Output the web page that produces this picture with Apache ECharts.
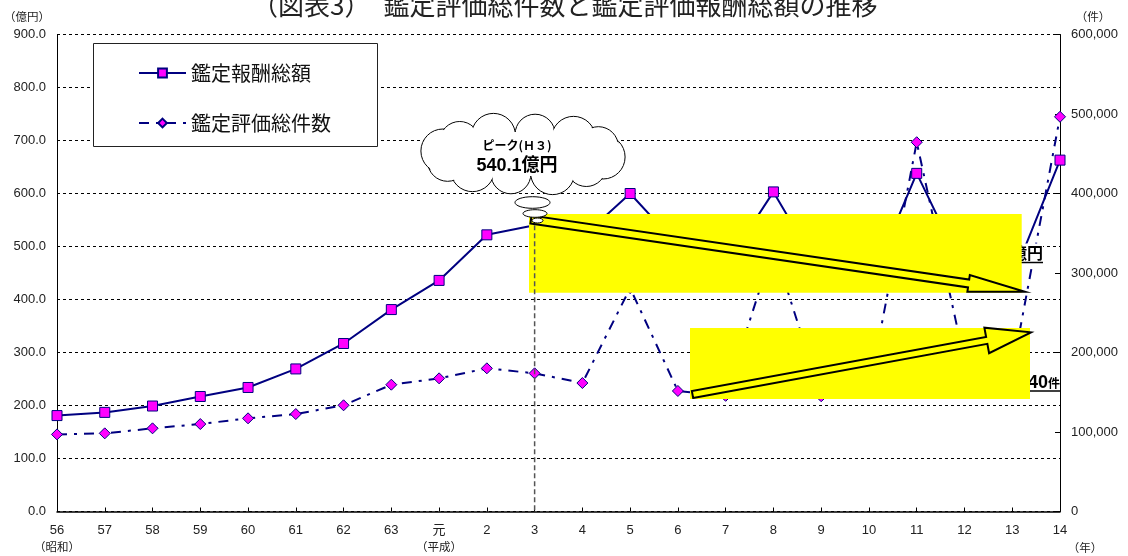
<!DOCTYPE html>
<html>
<head>
<meta charset="utf-8">
<script src="https://cdn.jsdelivr.net/npm/echarts@6/dist/echarts.min.js"></script>
<style>
html, body { margin: 0; padding: 0; background: #fff; }
#main { width: 1128px; height: 556px; }
</style>
</head>
<body>
<div id="main"></div>
<script>
// 年（昭和56年〜平成14年）
var years = ['56', '57', '58', '59', '60', '61', '62', '63', '元', '2', '3', '4', '5', '6', '7', '8', '9', '10', '11', '12', '13', '14'];
// 鑑定報酬総額（億円）
var feeTotal = [181, 187, 199, 217, 234, 269, 317, 381, 436, 522, 540.1, 518, 600, 502, 465, 603, 450, 425, 638, 452, 439, 663];
// 鑑定評価総件数（件）
var caseCount = [97000, 98300, 104600, 110000, 117200, 122600, 133600, 159500, 167500, 180100, 173800, 161600, 281000, 151600, 145500, 333000, 145000, 152000, 464500, 190000, 177000, 496500];
// 目盛り
var feeAxis = { min: 0, max: 900, step: 100 };
var countAxis = { min: 0, max: 600000, step: 100000 };

var JP = "'Noto Sans CJK JP', sans-serif";
var NUM = "'Liberation Sans', 'Noto Sans CJK JP', sans-serif";
var NAVY = '#000080';
var PINK = '#FF00FF';

var chart = echarts.init(document.getElementById('main'));

var option = {
    backgroundColor: '#fff',
    animation: false,
    textStyle: { fontFamily: NUM },
    title: {
        text: '（図表3）　鑑定評価総件数と鑑定評価報酬総額の推移',
        left: 247,
        top: -13,
        textStyle: { fontSize: 26, fontWeight: 'normal', color: '#222', fontFamily: JP }
    },
    legend: {
        orient: 'vertical',
        left: 133,
        top: 58,
        itemWidth: 47,
        itemHeight: 11,
        itemGap: 30,
        textStyle: { fontSize: 20, color: '#111', fontFamily: JP },
        data: ['鑑定報酬総額', '鑑定評価総件数']
    },
    grid: { left: 57, right: 68, top: 34.5, bottom: 44.5 },
    xAxis: {
        type: 'category',
        data: years,
        boundaryGap: false,
        axisLine: { lineStyle: { color: '#000', width: 1.5 } },
        axisTick: { inside: true, length: 4, lineStyle: { color: '#000' } },
        axisLabel: {
            interval: 0,
            margin: 11,
            fontSize: 13,
            lineHeight: 16,
            color: '#222',
            formatter: function (v) {
                if (v === '56') return v + '\n{sub|（昭和）}';
                if (v === '元') return v + '\n{sub|（平成）}';
                return v;
            },
            rich: { sub: { fontSize: 11.5, fontFamily: JP, color: '#222', lineHeight: 17 } }
        }
    },
    yAxis: [{
        type: 'value',
        min: feeAxis.min,
        max: feeAxis.max,
        interval: feeAxis.step,
        axisLine: { show: true, lineStyle: { color: '#000' } },
        axisTick: { show: false },
        axisLabel: { fontSize: 13, color: '#222', margin: 11, formatter: function (v) { return v.toFixed(1); } },
        splitLine: { lineStyle: { color: '#000', type: [3, 3], width: 1 } }
    }, {
        type: 'value',
        min: countAxis.min,
        max: countAxis.max,
        interval: countAxis.step,
        axisLine: { show: true, lineStyle: { color: '#000' } },
        axisTick: { show: true, inside: true, length: 5, lineStyle: { color: '#000' } },
        axisLabel: { fontSize: 13, color: '#222', margin: 11, formatter: function (v) { return v.toLocaleString('en-US'); } },
        splitLine: { show: false }
    }],
    series: [{
        name: '鑑定報酬総額',
        type: 'line',
        yAxisIndex: 0,
        data: feeTotal,
        symbol: 'rect',
        symbolSize: 10,
        z: 3,
        lineStyle: { color: NAVY, width: 2 },
        itemStyle: { color: PINK, borderColor: NAVY, borderWidth: 1 }
    }, {
        name: '鑑定評価総件数',
        type: 'line',
        yAxisIndex: 1,
        data: caseCount,
        symbol: 'diamond',
        symbolSize: 11,
        z: 3,
        lineStyle: { color: NAVY, width: 2, type: [10, 7, 3, 7] },
        itemStyle: { color: PINK, borderColor: NAVY, borderWidth: 1 }
    }]
};

chart.setOption(option);

// 矢印（白抜き）
function arrowPts(x0, y0, x1, y1, sw, hw, hl) {
    var dx = x1 - x0, dy = y1 - y0, len = Math.sqrt(dx * dx + dy * dy);
    var ux = dx / len, uy = dy / len, nx = -uy, ny = ux;
    var bx = x1 - ux * hl, by = y1 - uy * hl;
    return [
        [x0 + nx * sw / 2, y0 + ny * sw / 2],
        [bx + nx * sw / 2, by + ny * sw / 2],
        [bx + nx * hw / 2, by + ny * hw / 2],
        [x1, y1],
        [bx - nx * hw / 2, by - ny * hw / 2],
        [bx - nx * sw / 2, by - ny * sw / 2],
        [x0 - nx * sw / 2, y0 - ny * sw / 2]
    ];
}

var peakTop = chart.convertToPixel({ seriesIndex: 0 }, [10, feeTotal[10]]);
var peakBase = chart.convertToPixel({ seriesIndex: 0 }, [10, 0]);

var g = [];
// 凡例の枠
g.push({ type: 'rect', z: 3, shape: { x: 93.5, y: 43.5, width: 284, height: 103 }, style: { fill: '#fff', stroke: '#222', lineWidth: 1 } });
// 単位
g.push({ type: 'text', x: 27, y: 17, z: 5, style: { text: '（億円）', fontSize: 11.5, fontFamily: JP, fill: '#222', align: 'center', verticalAlign: 'middle' } });
g.push({ type: 'text', x: 1093, y: 17, z: 5, style: { text: '（件）', fontSize: 11.5, fontFamily: JP, fill: '#222', align: 'center', verticalAlign: 'middle' } });
g.push({ type: 'text', x: 1085, y: 548, z: 5, style: { text: '（年）', fontSize: 11.5, fontFamily: JP, fill: '#222', align: 'center', verticalAlign: 'middle' } });

// 隠れたテキストボックス
g.push({ type: 'text', x: 1043, y: 255, z: 40, style: { text: '438.5億円', align: 'right', verticalAlign: 'middle', fontSize: 16, fontWeight: 'bold', fontFamily: NUM, fill: '#000', backgroundColor: '#fff', padding: [3, 0, 4, 0] } });
g.push({ type: 'line', z: 41, shape: { x1: 940, y1: 262.5, x2: 1043, y2: 262.5 }, style: { stroke: '#000', lineWidth: 1.5 } });
g.push({ type: 'text', x: 1060, y: 383, z: 40, style: { text: '{n|177,040}{u|件}', align: 'right', verticalAlign: 'middle', fill: '#000', backgroundColor: '#fff', rich: { n: { fontSize: 18, fontWeight: 'bold', fontFamily: NUM }, u: { fontSize: 12, fontWeight: 'bold', fontFamily: JP } } } });
g.push({ type: 'line', z: 41, shape: { x1: 950, y1: 391, x2: 1060, y2: 391 }, style: { stroke: '#000', lineWidth: 1.5 } });

// 黄色の枠
g.push({ type: 'rect', z: 50, shape: { x: 529, y: 214, width: 492.7, height: 78.7 }, style: { fill: '#FFFF00' } });
g.push({ type: 'rect', z: 50, shape: { x: 690, y: 328, width: 340, height: 71 }, style: { fill: '#FFFF00' } });

// 矢印
g.push({ type: 'polygon', z: 52, shape: { points: arrowPts(531, 219.5, 1025, 291.7, 8, 17, 57) }, style: { fill: 'none', stroke: '#000', lineWidth: 2 } });
g.push({ type: 'polygon', z: 52, shape: { points: arrowPts(692.5, 394.5, 1031, 332.3, 7, 26, 45) }, style: { fill: 'none', stroke: '#000', lineWidth: 2 } });

// ピーク位置の縦線
g.push({ type: 'line', z: 53, shape: { x1: peakTop[0], y1: peakTop[1], x2: peakBase[0], y2: peakBase[1] }, style: { stroke: '#555', lineWidth: 1.5, lineDash: [5, 3] } });

// 雲形吹き出し
var cx = 523, cy = 154, bumps = [];
for (var i = 0; i < 12; i++) {
    var a = i / 12 * Math.PI * 2 + 0.15;
    var r = (i % 2 === 0) ? 22 : 20;
    bumps.push({ x: cx + 81 * Math.cos(a), y: cy + 20 * Math.sin(a), r: r });
}
bumps.forEach(function (b) {
    g.push({ type: 'circle', z: 60, shape: { cx: b.x, cy: b.y, r: b.r }, style: { fill: '#fff', stroke: '#000', lineWidth: 1 } });
});
bumps.forEach(function (b) {
    g.push({ type: 'circle', z: 61, shape: { cx: b.x, cy: b.y, r: b.r - 1 }, style: { fill: '#fff' } });
});
g.push({ type: 'ellipse', z: 61, shape: { cx: cx, cy: cy, rx: 84, ry: 22 }, style: { fill: '#fff' } });
g.push({ type: 'text', x: 517, y: 145, z: 63, style: { text: 'ピーク(Ｈ３)', fontSize: 12, fontWeight: 'bold', fontFamily: JP, fill: '#000', align: 'center', verticalAlign: 'middle' } });
g.push({ type: 'text', x: 517, y: 166, z: 63, style: { text: '540.1億円', fontSize: 18, fontWeight: 'bold', fontFamily: NUM, fill: '#000', align: 'center', verticalAlign: 'middle' } });
g.push({ type: 'ellipse', z: 60, shape: { cx: 532.5, cy: 202.5, rx: 17.5, ry: 5.8 }, style: { fill: '#fff', stroke: '#000', lineWidth: 1 } });
g.push({ type: 'ellipse', z: 60, shape: { cx: 535, cy: 213.5, rx: 12, ry: 3.8 }, style: { fill: '#fff', stroke: '#000', lineWidth: 1 } });
g.push({ type: 'ellipse', z: 60, shape: { cx: 537.5, cy: 220.5, rx: 5.5, ry: 2.5 }, style: { fill: '#fff', stroke: '#000', lineWidth: 1 } });

chart.setOption({ graphic: { elements: g } });
</script>
</body>
</html>
